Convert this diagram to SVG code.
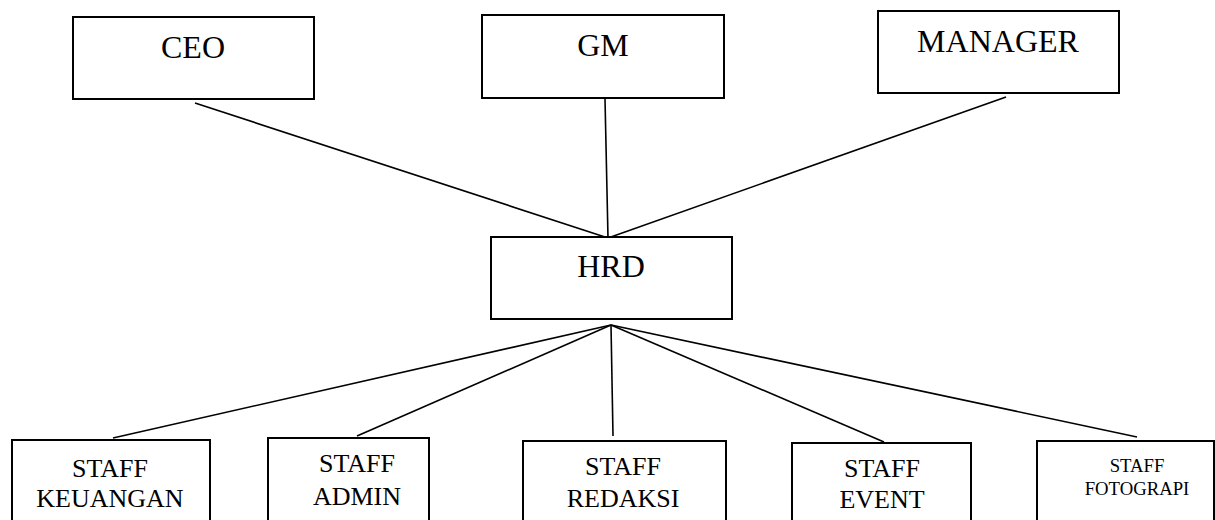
<svg xmlns="http://www.w3.org/2000/svg" width="1215" height="520" viewBox="0 0 1215 520">
<style>
.box{fill:#fff;stroke:#000;stroke-width:2}
.ln{stroke:#000;stroke-width:1.6;fill:none}
text{font-family:"Liberation Serif","Times New Roman",serif;fill:#000;text-anchor:middle}
.big{font-size:32px}
.mid{font-size:26px}
.sm{font-size:18.7px}
</style>
<rect width="1215" height="520" fill="#fff"/>
<g id="connectors">
<line class="ln" x1="195" y1="103" x2="608" y2="238"/>
<line class="ln" x1="605" y1="99" x2="608" y2="238"/>
<line class="ln" x1="1006" y1="97" x2="608" y2="238"/>
<line class="ln" x1="611" y1="325" x2="113" y2="438"/>
<line class="ln" x1="611" y1="325" x2="357" y2="436"/>
<line class="ln" x1="611" y1="325" x2="613" y2="436"/>
<line class="ln" x1="611" y1="325" x2="884" y2="442"/>
<line class="ln" x1="611" y1="325" x2="1137" y2="437"/>
</g>
<g id="ceo"><rect class="box" x="73" y="17" width="241" height="82"/><text class="big" x="193" y="58">CEO</text></g>
<g id="gm"><rect class="box" x="482" y="15" width="242" height="83"/><text class="big" x="603" y="56">GM</text></g>
<g id="manager"><rect class="box" x="878" y="11" width="241" height="82"/><text class="big" x="998" y="52">MANAGER</text></g>
<g id="hrd"><rect class="box" x="491" y="237" width="241" height="82"/><text class="big" x="611" y="277">HRD</text></g>
<g id="staff-keuangan"><rect class="box" x="12" y="440" width="198" height="90"/><text class="mid" x="110" y="477">STAFF</text><text class="mid" x="110" y="507">KEUANGAN</text></g>
<g id="staff-admin"><rect class="box" x="268" y="438" width="161" height="92"/><text class="mid" x="357" y="472">STAFF</text><text class="mid" x="357" y="505">ADMIN</text></g>
<g id="staff-redaksi"><rect class="box" x="523" y="441" width="203" height="89"/><text class="mid" x="623" y="475">STAFF</text><text class="mid" x="623" y="507">REDAKSI</text></g>
<g id="staff-event"><rect class="box" x="792" y="443" width="179" height="87"/><text class="mid" x="882" y="477">STAFF</text><text class="mid" x="882" y="508">EVENT</text></g>
<g id="staff-fotograpi"><rect class="box" x="1037" y="441" width="177" height="89"/><text class="sm" x="1137" y="472">STAFF</text><text class="sm" x="1137" y="495">FOTOGRAPI</text></g>
</svg>
